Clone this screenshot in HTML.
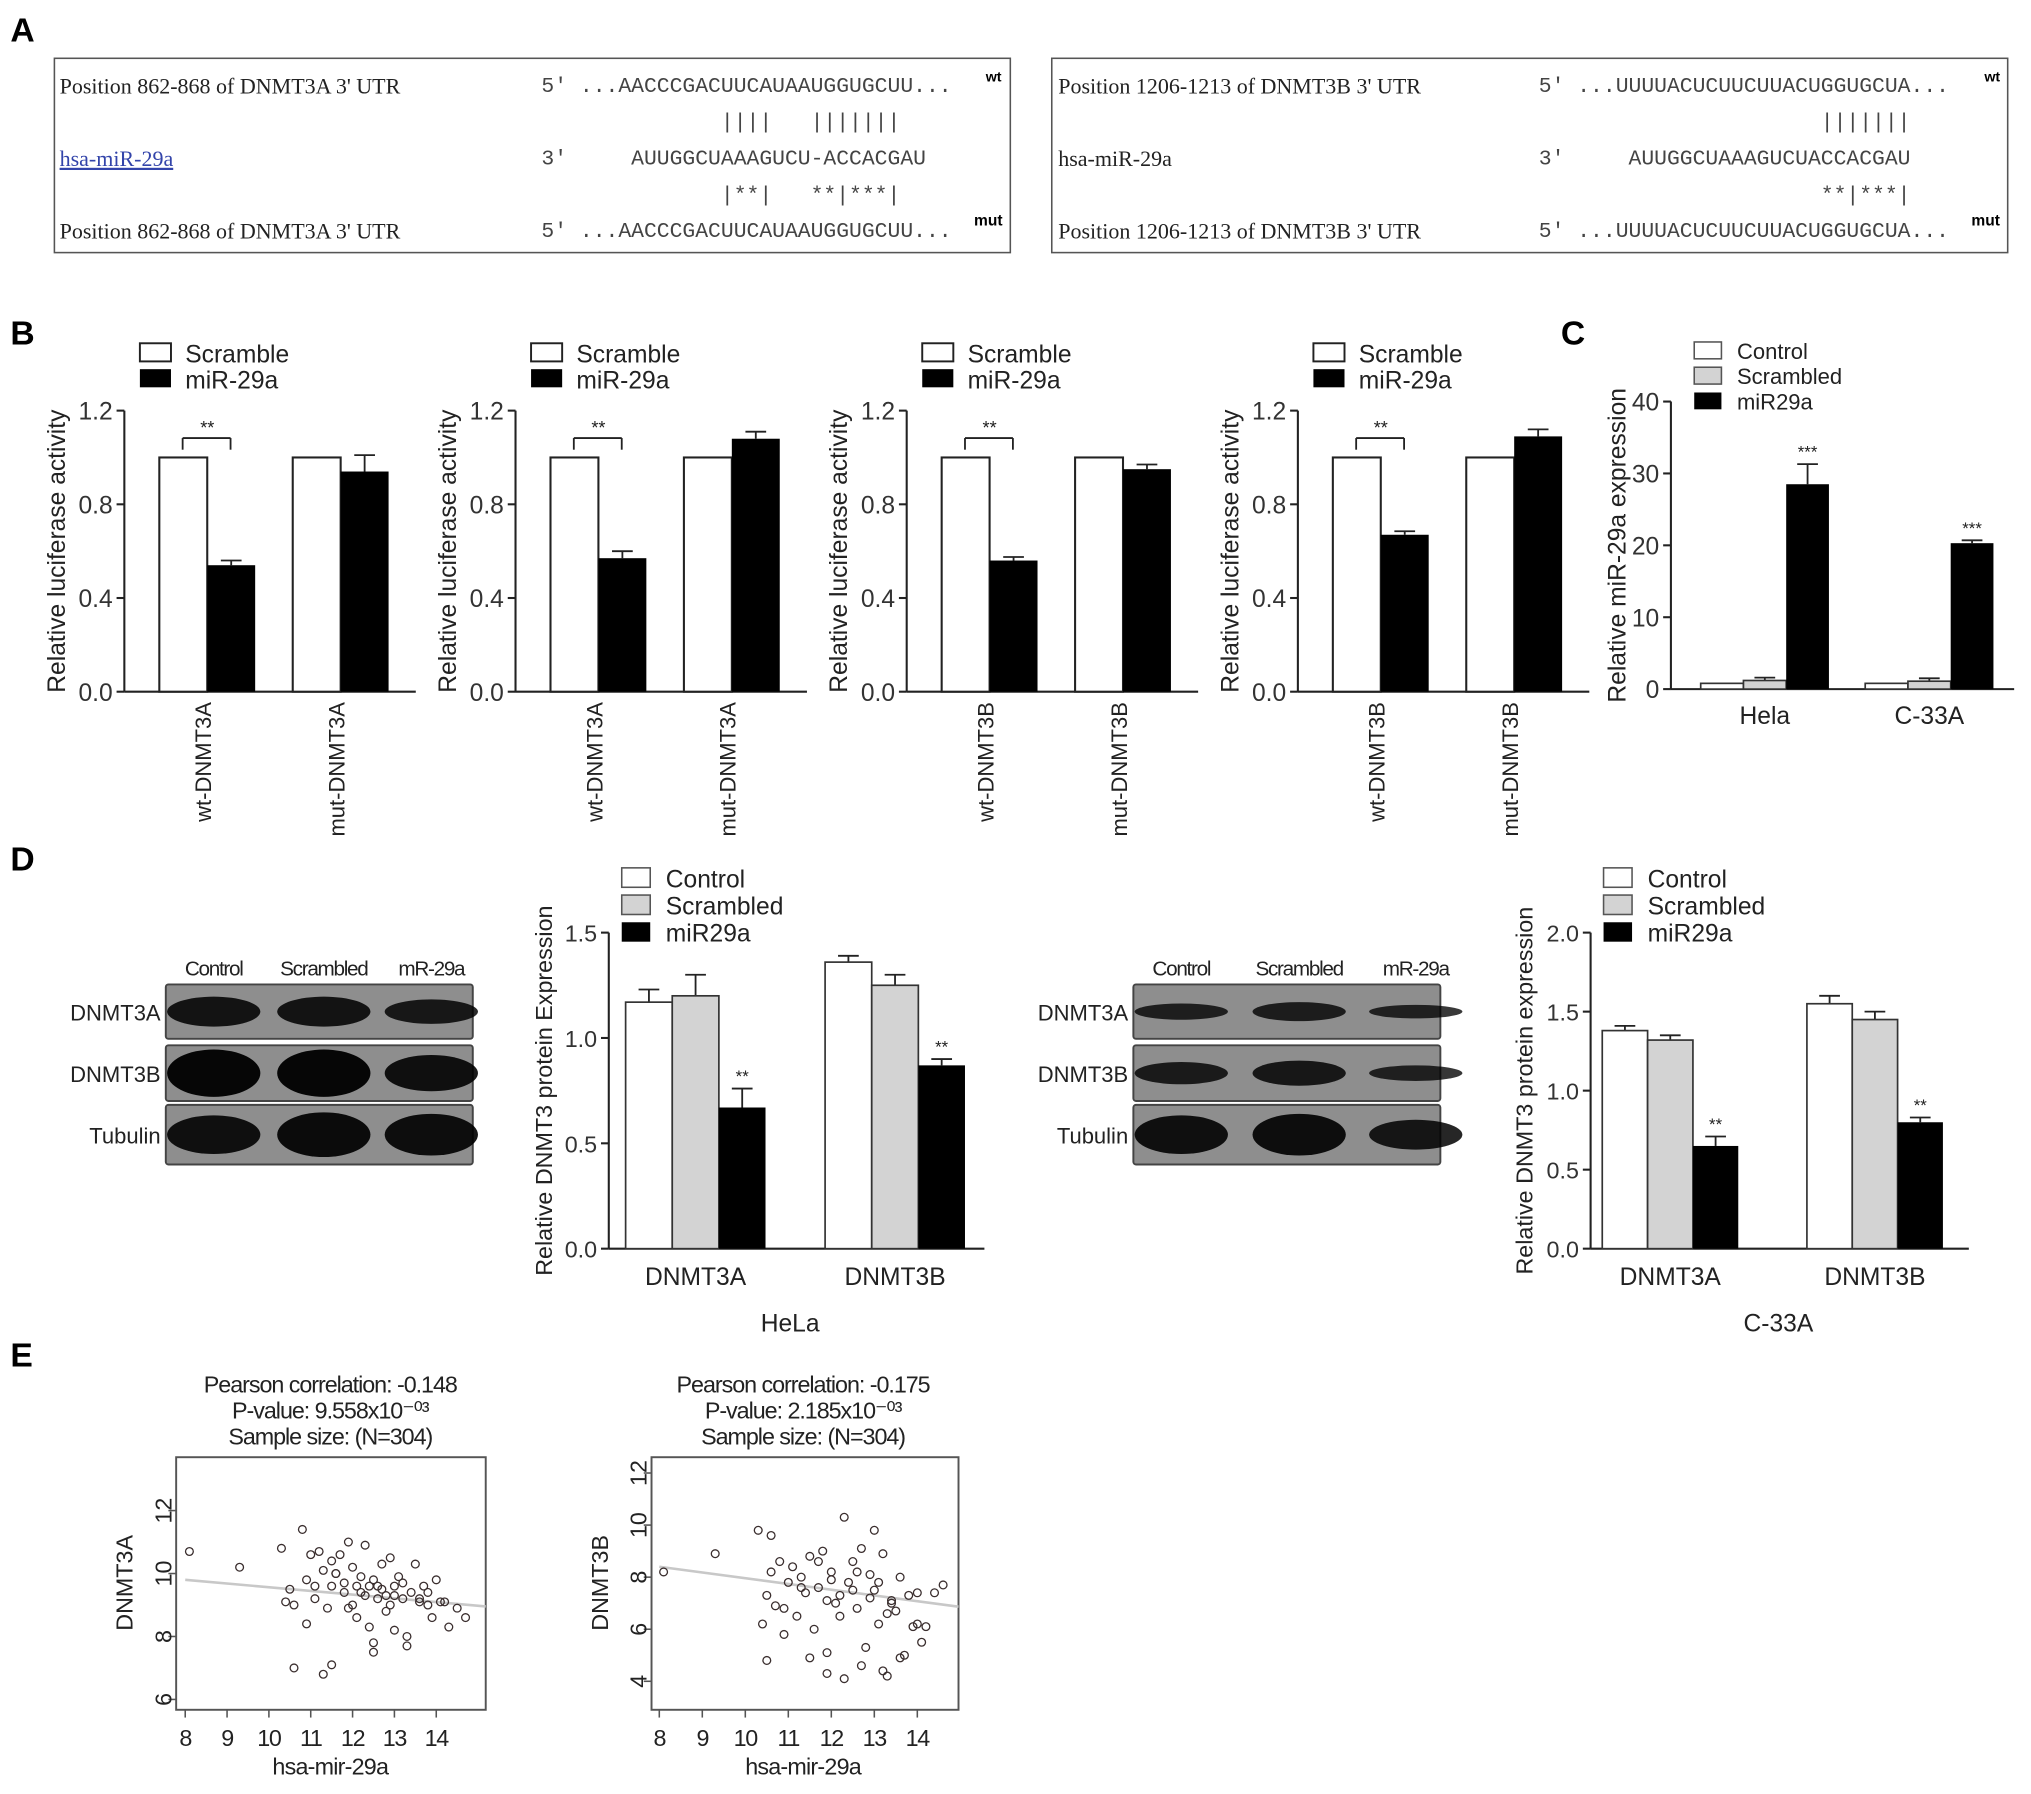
<!DOCTYPE html>
<html><head><meta charset="utf-8"><style>
html,body{margin:0;padding:0;background:#fff;}
svg{display:block;font-family:"Liberation Sans",Arial,sans-serif;}
.mono{font-family:"Liberation Mono",monospace;}
.serif{font-family:"Liberation Serif",serif;}
</style></head><body>
<svg id="fig" width="2031" height="1794" viewBox="0 0 1568 1385" xmlns="http://www.w3.org/2000/svg">
<g>
<text x="8" y="32" font-size="26" font-weight="bold">A</text>
<rect x="42" y="45" width="738" height="150" fill="none" stroke="#555" stroke-width="1.2"/>
<g font-size="17" class="serif" fill="#222">
<text x="46" y="72">Position 862-868 of DNMT3A 3' UTR</text>
<text x="46" y="128" fill="#3344aa" text-decoration="underline">hsa-miR-29a</text>
<text x="46" y="184">Position 862-868 of DNMT3A 3' UTR</text>
</g>
<g font-size="16.5" class="mono" fill="#444">
<text x="418" y="71">5'  ...AACCCGACUUCAUAAUGGUGCUU...</text>
<text x="418" y="99" xml:space="preserve">              ||||   |||||||</text>
<text x="418" y="127" xml:space="preserve">3'     AUUGGCUAAAGUCU-ACCACGAU</text>
<text x="418" y="155" xml:space="preserve">              |**|   **|***|</text>
<text x="418" y="183">5'  ...AACCCGACUUCAUAAUGGUGCUU...</text>
</g>
<text x="761" y="63" font-size="11" font-weight="bold">wt</text>
<text x="752" y="174" font-size="12" font-weight="bold">mut</text>
<rect x="812" y="45" width="738" height="150" fill="none" stroke="#555" stroke-width="1.2"/>
<g font-size="17" class="serif" fill="#222">
<text x="817" y="72">Position 1206-1213 of DNMT3B 3' UTR</text>
<text x="817" y="128">hsa-miR-29a</text>
<text x="817" y="184">Position 1206-1213 of DNMT3B 3' UTR</text>
</g>
<g font-size="16.5" class="mono" fill="#444">
<text x="1188" y="71">5'  ...UUUUACUCUUCUUACUGGUGCUA...</text>
<text x="1188" y="99" xml:space="preserve">                      |||||||</text>
<text x="1188" y="127" xml:space="preserve">3'     AUUGGCUAAAGUCUACCACGAU</text>
<text x="1188" y="155" xml:space="preserve">                      **|***|</text>
<text x="1188" y="183">5'  ...UUUUACUCUUCUUACUGGUGCUA...</text>
</g>
<text x="1532" y="63" font-size="11" font-weight="bold">wt</text>
<text x="1522" y="174" font-size="12" font-weight="bold">mut</text>
</g>
<text x="8" y="266" font-size="26" font-weight="bold">B</text>
<text x="1205" y="266" font-size="26" font-weight="bold">C</text>
<text x="8" y="672" font-size="26" font-weight="bold">D</text>
<text x="8" y="1055" font-size="26" font-weight="bold">E</text>
<g id="layer"></g>
</svg>
<script>
// Panel B data
const bCats = [["wt-DNMT3A","mut-DNMT3A"],["wt-DNMT3A","mut-DNMT3A"],["wt-DNMT3B","mut-DNMT3B"],["wt-DNMT3B","mut-DNMT3B"]];
const bScramble = [[1.0,1.0],[1.0,1.0],[1.0,1.0],[1.0,1.0]];
const bMir = [[0.54,0.94],[0.57,1.08],[0.56,0.95],[0.67,1.09]];
const bMirErr = [[0.02,0.07],[0.03,0.03],[0.015,0.02],[0.015,0.03]];
const bTicks = [0.0,0.4,0.8,1.2];
// Panel C data
const cCats = ["Hela","C-33A"];
const cControl = [0.8,0.8];
const cScrambled = [1.2,1.1];
const cScrErr = [0.4,0.4];
const cMir = [28.5,20.3];
const cMirErr = [2.8,0.4];
const cTicks = [0,10,20,30,40];
// Panel D data
const dCats = ["DNMT3A","DNMT3B"];
const dHelaControl = [1.17,1.36];
const dHelaControlErr = [0.06,0.03];
const dHelaScr = [1.20,1.25];
const dHelaScrErr = [0.10,0.05];
const dHelaMir = [0.67,0.87];
const dHelaMirErr = [0.09,0.03];
const dHelaTicks = [0.0,0.5,1.0,1.5];
const dC33Control = [1.38,1.55];
const dC33ControlErr = [0.03,0.05];
const dC33Scr = [1.32,1.45];
const dC33ScrErr = [0.03,0.05];
const dC33Mir = [0.65,0.80];
const dC33MirErr = [0.06,0.03];
const dC33Ticks = [0.0,0.5,1.0,1.5,2.0];
// Panel E data
const eX1 = [8.1,9.3,10.3,10.5,10.6,10.8,10.9,11.0,11.1,11.2,11.3,11.4,11.5,11.5,11.6,11.7,11.8,11.9,12.0,12.0,12.1,12.2,12.3,12.3,12.4,12.5,12.5,12.6,12.7,12.8,12.8,12.9,13.0,13.0,13.1,13.2,13.3,13.4,13.5,13.6,13.7,13.8,13.9,14.0,14.1,14.3,14.5,14.7,10.6,11.3,11.5,12.5,13.3,10.4,11.8,12.2,12.9,13.6,11.1,12.6,13.2,14.2,10.9,11.9,12.4,13.0,13.8,11.6,12.1,12.7];
const eY1 = [10.7,10.2,10.8,9.5,9.0,11.4,9.8,10.6,9.2,10.7,10.1,8.9,10.4,9.6,10.0,10.6,9.4,11.0,10.2,9.0,8.6,9.9,10.9,9.3,8.3,9.8,7.5,9.6,10.3,9.3,8.8,10.5,9.6,8.2,9.9,9.2,8.0,9.4,10.3,9.1,9.6,9.0,8.6,9.8,9.1,8.3,8.9,8.6,7.0,6.8,7.1,7.8,7.7,9.1,9.7,9.4,9.0,9.2,9.6,9.2,9.7,9.1,8.4,8.9,9.6,9.3,9.4,10.0,9.6,9.5];
const eX2 = [8.1,9.3,10.3,10.4,10.5,10.6,10.7,10.8,10.9,11.0,11.1,11.2,11.3,11.4,11.5,11.6,11.7,11.8,11.9,12.0,12.1,12.2,12.3,12.4,12.5,12.6,12.7,12.8,12.9,13.0,13.1,13.2,13.3,13.4,13.5,13.6,13.7,13.8,13.9,14.0,14.1,14.2,14.4,14.6,10.5,11.5,11.9,12.3,12.7,13.2,13.6,10.9,11.3,12.0,12.6,13.0,13.4,14.0,11.7,12.2,12.9,13.3,10.6,11.9,12.5,13.1];
const eY2 = [8.2,8.9,9.8,6.2,7.3,9.6,6.9,8.6,5.8,7.8,8.4,6.5,8.0,7.4,8.8,6.0,7.6,9.0,5.1,8.2,7.0,6.5,10.3,7.8,8.6,6.8,9.1,5.3,7.2,9.8,6.2,8.9,4.2,7.0,6.7,8.0,5.0,7.3,6.1,7.4,5.5,6.1,7.4,7.7,4.8,4.9,4.3,4.1,4.6,4.4,4.9,6.8,7.6,7.9,8.2,7.5,7.1,6.2,8.6,7.3,8.1,6.6,8.2,7.1,7.5,7.8];
const eFit1 = [9.8,9.0];
const eFit2 = [8.4,6.9];
const eFitX = [8.0,14.8];

const NS="http://www.w3.org/2000/svg";
const layer=document.getElementById('layer');
function mk(tag,attrs,parent){const e=document.createElementNS(NS,tag);for(const k in attrs)e.setAttribute(k,attrs[k]);(parent||layer).appendChild(e);return e;}
function txt(x,y,s,size,extra,parent){const t=mk('text',Object.assign({x:x,y:y,'font-size':size,fill:'#222'},extra||{}),parent);t.textContent=s;return t;}
function lin(x1,y1,x2,y2,parent,w,c){return mk('line',{x1:x1,y1:y1,x2:x2,y2:y2,stroke:c||'#222','stroke-width':w||1.6},parent);}
function errBar(x,yTop,yErr,parent){lin(x,yTop,x,yErr,parent,1.4);lin(x-8,yErr,x+8,yErr,parent,1.4);}

// ---- Panel B ----
for(let p=0;p<4;p++){
  const ox=96+p*302, y0=534, yTop=317, maxV=1.2;
  const yS=v=>y0-(v/maxV)*(y0-yTop);
  const g=mk('g',{});
  
  
  lin(ox,yTop,ox,y0,g);lin(ox,y0,ox+225,y0,g);
  bTicks.forEach(t=>{const y=yS(t);lin(ox-6,y,ox,y,g);txt(ox-9,y+7,t.toFixed(1),19,{'text-anchor':'end',fill:'#333'},g);});
  const lb1=mk('rect',{x:ox+12,y:265,width:24,height:14,fill:'#fff',stroke:'#222','stroke-width':1.5},g);
  
  
  txt(ox+47,280,'Scramble',19,{},g);
  const lb2=mk('rect',{x:ox+12,y:285,width:24,height:14,fill:'#000'},g);
  
  
  txt(ox+47,300,'miR-29a',19,{},g);
  const lx0=ox-52, ly0=(y0+yTop)/2;
  const t=txt(lx0,ly0+6,'Relative luciferase activity',19,{'text-anchor':'middle',transform:`rotate(-90 ${lx0} ${ly0})`},g);
  
  
  for(let c=0;c<2;c++){
    const bx=ox+27+c*103, w=37;
    const r1=mk('rect',{x:bx,y:yS(bScramble[p][c]),width:w,height:y0-yS(bScramble[p][c]),fill:'#fff',stroke:'#222','stroke-width':1.6},g);
    
    
    errBar(bx+w+w/2,yS(bMir[p][c]),yS(bMir[p][c]+bMirErr[p][c]),g);
    const r2=mk('rect',{x:bx+w,y:yS(bMir[p][c]),width:w,height:y0-yS(bMir[p][c]),fill:'#000'},g);
    
    
    const lx=bx+w+3, ly=y0+8;
    const xl=txt(lx,ly,bCats[p][c],17,{'text-anchor':'end',transform:`rotate(-90 ${lx} ${ly})`},g);
    
    
    if(c===0){const by=yS(1.0)-15;lin(bx+18,by,bx+w+18,by,g,1.4);lin(bx+18,by,bx+18,by+9,g,1.4);lin(bx+w+18,by,bx+w+18,by+9,g,1.4);txt(bx+w,by-3,'**',14,{'text-anchor':'middle'},g);}
  }
}

// ---- grouped bar helper (C, D) ----
function grouped(cfg){
  const g=mk('g',{});
  
  
  const yS=v=>cfg.y0-(v/cfg.max)*(cfg.y0-cfg.yTop);
  lin(cfg.ax,cfg.yTop,cfg.ax,cfg.y0,g);lin(cfg.ax,cfg.y0,cfg.xEnd,cfg.y0,g);
  cfg.ticks.forEach(t=>{const y=yS(t);lin(cfg.ax-6,y,cfg.ax,y,g);txt(cfg.ax-9,y+7,cfg.dec?t.toFixed(1):String(t),cfg.tfs,{'text-anchor':'end',fill:'#333'},g);});
  const fills=['#fff','#d3d3d3','#000'];
  cfg.cats.forEach((cat,i)=>{
    const gx=cfg.gx[i];
    cfg.series.forEach((s,k)=>{
      const x=gx+k*cfg.bw, v=s.v[i];
      if(s.e) errBar(x+cfg.bw/2,yS(v),yS(v+s.e[i]),g);
      const r=mk('rect',{x:x,y:yS(v),width:cfg.bw,height:cfg.y0-yS(v),fill:fills[k],stroke:k<2?'#333':'none','stroke-width':1.3},g);
      
      
      if(k===2) txt(x+cfg.bw/2,yS(v+(s.e?s.e[i]:0))-5,cfg.star,13,{'text-anchor':'middle'},g);
    });
    const xl=txt(gx+cfg.bw*1.5,cfg.y0+cfg.lblOff,cat,cfg.lfs,{'text-anchor':'middle'},g);
    
    
  });
  ['Control','Scrambled','miR29a'].forEach((n,k)=>{
    const lr=mk('rect',{x:cfg.lx,y:cfg.ly+k*cfg.lstep,width:cfg.lw,height:cfg.lh,fill:fills[k],stroke:k<2?'#555':'none','stroke-width':1.2},g);
    
    
    txt(cfg.lx+cfg.lw+12,cfg.ly+k*cfg.lstep+cfg.lh,n,cfg.legfs,{},g);
  });
  const my=(cfg.y0+cfg.yTop)/2+cfg.ylOff;
  const yt=txt(cfg.ylx,my,cfg.ylabel,cfg.ylfs,{'text-anchor':'middle',transform:`rotate(-90 ${cfg.ylx} ${my})`},g);
  
  
  if(cfg.sub){txt(cfg.subx,1028,cfg.sub,19,{'text-anchor':'middle'},g);}
}
grouped({name:'mir29a-expression-chart',ax:1290,y0:532,yTop:310,max:40,xEnd:1555,ticks:cTicks,dec:false,tfs:19,cats:cCats,gx:[1313,1440],bw:33,
  series:[{n:'control',v:cControl},{n:'scrambled',v:cScrambled,e:cScrErr},{n:'mir29a',v:cMir,e:cMirErr}],star:'***',lblOff:27,lfs:19,
  lx:1308,ly:264,lw:21,lh:13,lstep:19.5,legfs:17,ylx:1255,ylOff:0,ylabel:'Relative miR-29a expression',ylfs:19});
grouped({name:'hela-protein-chart',ax:470,y0:964,yTop:720,max:1.5,xEnd:760,ticks:dHelaTicks,dec:true,tfs:18,cats:dCats,gx:[483,637],bw:36,
  series:[{n:'control',v:dHelaControl,e:dHelaControlErr},{n:'scrambled',v:dHelaScr,e:dHelaScrErr},{n:'mir29a',v:dHelaMir,e:dHelaMirErr}],star:'**',lblOff:28,lfs:19,
  lx:480,ly:670,lw:22,lh:15,lstep:21,legfs:19,ylx:426,ylOff:0,ylabel:'Relative DNMT3 protein Expression',ylfs:18,sub:'HeLa',subx:610});
grouped({name:'c33a-protein-chart',ax:1228,y0:964,yTop:720,max:2.0,xEnd:1520,ticks:dC33Ticks,dec:true,tfs:18,cats:dCats,gx:[1237,1395],bw:35,
  series:[{n:'control',v:dC33Control,e:dC33ControlErr},{n:'scrambled',v:dC33Scr,e:dC33ScrErr},{n:'mir29a',v:dC33Mir,e:dC33MirErr}],star:'**',lblOff:28,lfs:19,
  lx:1238,ly:670,lw:22,lh:15,lstep:21,legfs:19,ylx:1183,ylOff:0,ylabel:'Relative DNMT3 protein expression',ylfs:18,sub:'C-33A',subx:1373});

// ---- Western blots ----
function blot(name,x0,heads,headX,strengths){
  const g=mk('g',{});
  
  
  heads.forEach((h,i)=>txt(headX[i],753,h,16,{'text-anchor':'middle','letter-spacing':'-1'},g));
  const rows=['DNMT3A','DNMT3B','Tubulin'], ys=[760,807,853], hs=[42,43,46];
  rows.forEach((r,j)=>{
    const bg=mk('rect',{x:x0,y:ys[j],width:237,height:hs[j],fill:'#8e8e8e',stroke:'#444','stroke-width':1.5,rx:2},g);
    
    
    txt(x0-4,ys[j]+hs[j]/2+7,r,17,{'text-anchor':'end'},g);
    headX.forEach((hx,i)=>{const s=strengths[j][i];mk('ellipse',{cx:hx,cy:ys[j]+hs[j]/2,rx:36,ry:hs[j]/2*s,fill:'#000',opacity:0.7+0.3*s},g);});
  });
}
blot('hela-western-blot',128,['Control','Scrambled','mR-29a'],[165,250,333],[[0.55,0.55,0.45],[0.85,0.85,0.65],[0.65,0.75,0.7]]);
blot('c33a-western-blot',875,['Control','Scrambled','mR-29a'],[912,1003,1093],[[0.3,0.35,0.25],[0.4,0.45,0.28],[0.65,0.7,0.5]]);

// ---- Panel E scatter ----
function scatter(cfg){
  const g=mk('g',{});
  
  
  const xS=v=>cfg.x8+(v-8)*cfg.xu, yS=v=>cfg.yRef-(v-cfg.yRefV)*cfg.yu;
  cfg.title.forEach((t,i)=>txt(cfg.tx,1075+i*20,t,18,{'text-anchor':'middle','letter-spacing':'-0.8'},g));
  mk('rect',{x:cfg.bx,y:1125,width:cfg.bw,height:195,fill:'none',stroke:'#555','stroke-width':1.5},g);
  [8,9,10,11,12,13,14].forEach(t=>{const x=xS(t);lin(x,1320,x,1326,g,1.2,'#555');txt(x,1348,String(t),18,{'text-anchor':'middle','letter-spacing':'-1'},g);});
  cfg.yt.forEach(t=>{const y=yS(t);lin(cfg.bx-6,y,cfg.bx,y,g,1.2,'#555');txt(cfg.bx-10,y,String(t),18,{'text-anchor':'middle',transform:`rotate(-90 ${cfg.bx-10} ${y})`,dy:'0.35em'},g);});
  mk('line',{x1:xS(eFitX[0]),y1:yS(cfg.fit[0]),x2:cfg.bx+cfg.bw,y2:yS(cfg.fit[0]+(cfg.fit[1]-cfg.fit[0])*((cfg.bx+cfg.bw-xS(eFitX[0]))/(xS(eFitX[1])-xS(eFitX[0])))),stroke:'#c8c8c8','stroke-width':2},g);
  cfg.xs.forEach((xv,i)=>{const c=mk('circle',{cx:xS(xv),cy:yS(cfg.ys[i]),r:3,fill:'none',stroke:'#3a2e2e','stroke-width':1},g);
    
    });
  txt(cfg.tx,1370,'hsa-mir-29a',18,{'text-anchor':'middle','letter-spacing':'-0.6'},g);
  const yl=txt(cfg.bx-40,1222,cfg.ylabel,18,{'text-anchor':'middle',transform:`rotate(-90 ${cfg.bx-40} 1222)`,dy:'0.35em'},g);
  
  
}
scatter({name:'dnmt3a-scatter',bx:136,bw:239,x8:143,xu:32.3,yRef:1312,yRefV:6,yu:24.3,yt:[6,8,10,12],xs:eX1,ys:eY1,fit:eFit1,tx:255,ylabel:'DNMT3A',
  title:['Pearson correlation: -0.148','P-value: 9.558x10⁻⁰³','Sample size: (N=304)']});
scatter({name:'dnmt3b-scatter',bx:503,bw:237,x8:509,xu:33.2,yRef:1298,yRefV:4,yu:20.1,yt:[4,6,8,10,12],xs:eX2,ys:eY2,fit:eFit2,tx:620,ylabel:'DNMT3B',
  title:['Pearson correlation: -0.175','P-value: 2.185x10⁻⁰³','Sample size: (N=304)']});
</script>
</body></html>
